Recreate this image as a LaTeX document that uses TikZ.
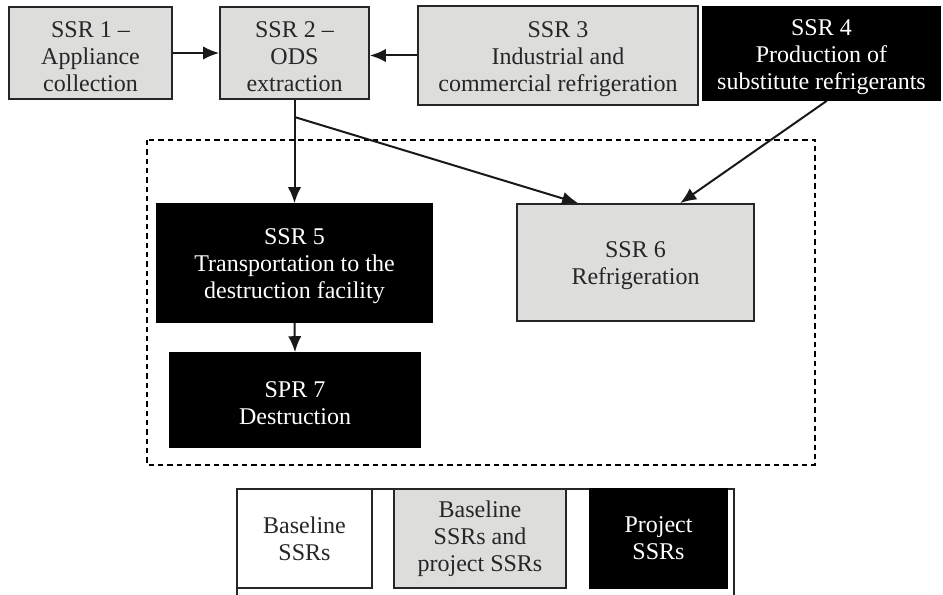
\documentclass[tikz,border=0pt]{standalone}
\usepackage{fontspec}
\setmainfont{Liberation Serif}
\usetikzlibrary{arrows.meta}
\definecolor{ssrgrey}{RGB}{221,221,220}
\newcommand{\ssrstrut}{\rule{0pt}{17pt}}
\tikzstyle{grey ssr}=[
        draw = black!85,
        line width = 1.3pt,
        fill = ssrgrey,
        text = black!85,
        align = center
    ]
\tikzstyle{black ssr}=[
    draw = black,
    fill = black,
    text = white,
    align = center
]
\tikzstyle{white ssr}=[
    draw = black!85,
    line width = 1.3pt,
    fill = white,
    text = black!85,
    align = center
]
\begin{document}
\begin{tikzpicture}[x=0.75pt, y=-0.75pt, line width=1.2pt,
        font=\fontsize{18}{20.25}\selectfont,
        flow/.style = {-{Latex[length=12pt, width=10pt]}, line width=1.5pt, draw=black!90}]
        \useasboundingbox (0,0) rectangle (943,595);

        \node[grey ssr, minimum width=122.25pt, minimum height=69pt] (1) at (90.5,53) {\ssrstrut SSR 1 --\\Appliance\\collection};
        \node[grey ssr, minimum width=111.75pt, minimum height=69pt] (2) at (294.5,53) {\ssrstrut SSR 2 --\\ODS\\extraction};
        \node[grey ssr, minimum width=210pt, minimum height=74.25pt] (3) at (558,55.5) {\ssrstrut SSR 3\\Industrial and\\commercial refrigeration};
        \node[black ssr, minimum width=177.75pt, minimum height=69.75pt] (4) at (821.5,53.5) {\ssrstrut SSR 4\\Production of\\substitute refrigerants};
        \node[black ssr, minimum width=206.25pt, minimum height=88.5pt] (5) at (294.5,263) {\ssrstrut SSR 5\\Transportation to the\\destruction facility};
        \node[grey ssr, minimum width=177.75pt, minimum height=87.75pt] (6) at (635.5,262.5) {\ssrstrut SSR 6\\Refrigeration};
        \node[black ssr, minimum width=187.5pt, minimum height=70.5pt] (7) at (295,400) {\ssrstrut SPR 7\\Destruction};

        % project boundary
        \draw[dashed, dash pattern=on 4pt off 3pt, line width=1pt] (147,140) rectangle (815,465);

        \coordinate (fork) at (294.5,117);
        \draw[flow] (1.east) -- (2.west);
        \draw[flow] (3.west) -- (3.west -| 2.east);
        \draw[flow] (2.south) -- (5.north);
        \draw[flow] (fork) -- (6.134.5);
        \draw[flow] ([xshift=4pt]4.south) -- (6.53);
        \draw[flow] (5.south) -- (7.north);

        % legend
        \draw[draw=black!85, line width=1pt] (237,595) |- (734,489) -- (734,595);
        \node[white ssr, minimum width=101.25pt, minimum height=74.25pt] (b) at (304.5,538.5) {Baseline\\SSRs};
        \node[grey ssr, minimum width=129pt, minimum height=74.25pt] (bp) at (480,538.5) {Baseline\\SSRs and\\project SSRs};
        \node[black ssr, minimum width=102.75pt, minimum height=74.25pt] (p) at (658.5,538.5) {Project\\SSRs};

    \end{tikzpicture}
\end{document}
